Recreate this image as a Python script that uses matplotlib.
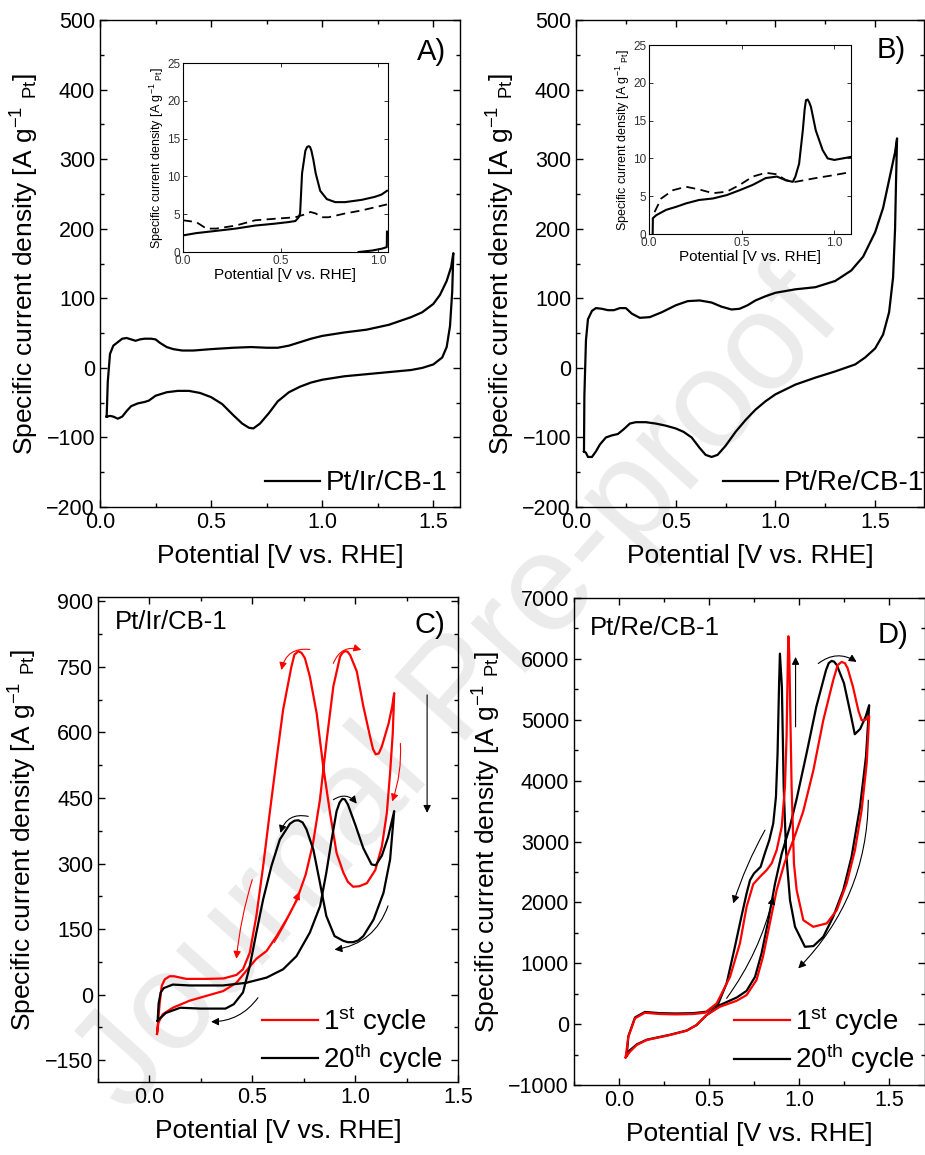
import matplotlib
matplotlib.use('Agg')
from matplotlib import pyplot as plt
from matplotlib.ticker import MultipleLocator

plt.rcParams['font.family'] = ['Liberation Sans', 'DejaVu Sans']
plt.rcParams['mathtext.fontset'] = 'custom'
plt.rcParams['mathtext.rm'] = 'Liberation Sans'
plt.rcParams['mathtext.it'] = 'Liberation Sans:italic'
plt.rcParams['mathtext.default'] = 'regular'

# ---- A) Pt/Ir/CB-1 CV ----
a_fwd_x = [0.03, 0.035, 0.045, 0.06, 0.08, 0.1, 0.12, 0.14, 0.16, 0.18, 0.2, 0.23, 0.25, 0.27, 0.3,
           0.33, 0.37, 0.42, 0.5, 0.6, 0.68, 0.75, 0.8, 0.85, 0.9, 0.95, 1.0, 1.1, 1.2, 1.3, 1.4,
           1.45, 1.5, 1.53, 1.56, 1.58, 1.59]
a_fwd_y = [-70, -20, 20, 32, 37, 42, 43, 41, 39, 41, 42, 42, 41, 36, 30, 27, 25, 25, 27, 29, 30,
           29, 29, 32, 37, 42, 46, 51, 55, 62, 73, 80, 92, 105, 125, 145, 165]
a_bwd_x = [1.59, 1.585, 1.575, 1.56, 1.54, 1.5, 1.45, 1.4, 1.3, 1.2, 1.1, 1.0, 0.95, 0.9, 0.85, 0.8,
           0.76, 0.72, 0.69, 0.67, 0.64, 0.6, 0.55, 0.5, 0.45, 0.4, 0.35, 0.3, 0.25, 0.22, 0.2, 0.17,
           0.14, 0.12, 0.1, 0.08, 0.06, 0.045, 0.03]
a_bwd_y = [165, 110, 60, 30, 15, 5, 0, -3, -6, -9, -12, -17, -21, -27, -35, -48, -65, -80, -87, -86,
           -80, -68, -52, -42, -36, -33, -33, -35, -40, -47, -49, -51, -55, -62, -70, -73, -70, -69, -70]

# inset A
ia_sol_x = [0.0, 0.068, 0.17, 0.27, 0.37, 0.47, 0.54, 0.576, 0.593, 0.6, 0.61, 0.627, 0.636, 0.644,
            0.651, 0.658, 0.668, 0.68, 0.703, 0.737, 0.78, 0.83, 0.915, 0.983, 1.017, 1.045]
ia_sol_y = [2.2, 2.5, 2.8, 3.1, 3.5, 3.75, 3.96, 4.1, 4.6, 5.1, 10.4, 13.4, 13.9, 14.0, 13.9, 13.4,
            12.2, 10.4, 8.1, 7.0, 6.6, 6.6, 6.9, 7.3, 7.6, 8.1]
ia_dash_x = [0.0, 0.068, 0.12, 0.17, 0.27, 0.37, 0.47, 0.576, 0.627, 0.653, 0.68, 0.712, 0.746,
             0.83, 0.915, 1.045]
ia_dash_y = [4.2, 3.96, 3.1, 3.1, 3.5, 4.2, 4.4, 4.6, 5.0, 5.3, 5.1, 4.6, 4.6, 5.1, 5.5, 6.3]
ia_tail_x = [0.9, 0.97, 1.02, 1.044, 1.045]
ia_tail_y = [0.0, 0.2, 0.45, 0.65, 2.7]

# ---- B) Pt/Re/CB-1 CV ----
b_fwd_x = [0.04, 0.042, 0.05, 0.06, 0.08, 0.1, 0.13, 0.16, 0.19, 0.22, 0.25, 0.28, 0.32, 0.37, 0.43,
           0.5, 0.56, 0.62, 0.68, 0.73, 0.78, 0.82, 0.86, 0.9, 0.95, 1.0, 1.1, 1.2, 1.3, 1.38, 1.44,
           1.5, 1.54, 1.57, 1.6, 1.61]
b_fwd_y = [-120, -40, 40, 70, 82, 86, 85, 83, 83, 86, 86, 78, 72, 73, 80, 90, 96, 97, 94, 88, 84,
           85, 90, 97, 103, 108, 113, 116, 125, 140, 160, 195, 230, 270, 310, 330]
b_bwd_x = [1.61, 1.605, 1.6, 1.59, 1.57, 1.54, 1.5, 1.45, 1.4, 1.3, 1.2, 1.1, 1.0, 0.95, 0.9, 0.85,
           0.8, 0.75, 0.71, 0.68, 0.65, 0.62, 0.58, 0.54, 0.5, 0.45, 0.4, 0.35, 0.3, 0.27, 0.24,
           0.21, 0.18, 0.15, 0.12, 0.1, 0.08, 0.06, 0.05, 0.04]
b_bwd_y = [330, 270, 200, 130, 80, 48, 28, 15, 5, -5, -14, -24, -38, -48, -60, -75, -92, -112, -125,
           -128, -125, -115, -100, -92, -87, -83, -80, -78, -78, -80, -88, -95, -97, -100, -110,
           -120, -128, -128, -122, -120]

# inset B
ib_sol_x = [0.02, 0.021, 0.04, 0.093, 0.147, 0.2, 0.27, 0.345, 0.42, 0.49, 0.56, 0.63, 0.69, 0.74,
            0.776, 0.79, 0.81, 0.83, 0.84, 0.847, 0.856, 0.865, 0.874, 0.9, 0.937, 0.964, 1.0,
            1.045, 1.09]
ib_sol_y = [0.0, 2.1, 2.5, 3.2, 3.6, 4.05, 4.5, 4.7, 5.15, 5.8, 6.5, 7.4, 7.6, 7.1, 6.9, 7.6, 9.3,
            13.7, 16.5, 17.7, 17.8, 17.4, 16.8, 13.7, 11.1, 10.0, 9.8, 10.0, 10.2]
ib_dash_x = [0.03, 0.066, 0.13, 0.2, 0.27, 0.345, 0.42, 0.49, 0.56, 0.63, 0.69, 0.74, 0.79, 0.9,
             1.0, 1.09]
ib_dash_y = [2.9, 4.7, 5.8, 6.25, 5.9, 5.4, 5.6, 6.5, 7.6, 8.1, 7.9, 7.1, 6.9, 7.4, 7.8, 8.2]

# ---- C) Pt/Ir/CB-1, 1st and 20th cycle ----
c1_x = [0.037, 0.044, 0.065, 0.114, 0.195, 0.276, 0.358, 0.423, 0.47, 0.52, 0.57, 0.62, 0.67, 0.715,
        0.76, 0.795, 0.829, 0.862, 0.894, 0.927, 0.94, 0.951, 0.963, 0.976, 1.008, 1.04, 1.073,
        1.087, 1.1, 1.115, 1.13, 1.163, 1.18, 1.19,
        1.183, 1.17, 1.154, 1.13, 1.098, 1.057, 1.02, 0.99, 0.965, 0.943, 0.91, 0.878, 0.845,
        0.813, 0.78, 0.756, 0.74, 0.724, 0.705, 0.69, 0.65, 0.618, 0.585, 0.553, 0.52, 0.488,
        0.455, 0.423, 0.36, 0.28, 0.18, 0.12, 0.098, 0.075, 0.06, 0.05, 0.037]
c1_y = [-90, -64, -45, -30, -14, -3, 8, 27, 54, 82, 100, 135, 175, 215, 275, 345, 446, 583, 705, 774,
        783, 786, 785, 777, 740, 660, 590, 562, 550, 552, 568, 621, 659, 690,
        598, 507, 415, 339, 285, 255, 248, 247, 258, 279, 324, 416, 522, 644, 728, 770, 782, 786,
        778, 750, 652, 538, 416, 294, 180, 96, 58, 45, 37, 36, 36, 42, 42, 35, 20, -20, -90]
c20_x = [0.04, 0.045, 0.055, 0.07, 0.114, 0.195, 0.358, 0.47, 0.57, 0.65, 0.715, 0.78, 0.83, 0.86,
         0.886, 0.91, 0.925, 0.938, 0.95, 0.965, 1.0, 1.04, 1.08, 1.1, 1.13, 1.16, 1.19,
         1.17, 1.138, 1.09, 1.04, 1.015, 0.99, 0.965, 0.943, 0.9, 0.86, 0.829, 0.797, 0.764, 0.745,
         0.724, 0.705, 0.683, 0.634, 0.593, 0.553, 0.52, 0.488, 0.455, 0.41, 0.37, 0.25, 0.15,
         0.08, 0.05, 0.04]
c20_y = [-60, -20, 5, 15, 23, 21, 21, 27, 39, 58, 88, 142, 203, 279, 355, 420, 440, 448, 447, 435,
         390, 335, 298, 296, 318, 360, 420,
         309, 233, 172, 134, 124, 120, 120, 123, 134, 180, 256, 332, 378, 394, 399, 398, 391, 355,
         294, 218, 142, 65, 5, -22, -32, -32, -30, -42, -55, -60]

# ---- D) Pt/Re/CB-1, 1st and 20th cycle ----
d1_x = [0.037, 0.061, 0.098, 0.154, 0.283, 0.376, 0.431, 0.487, 0.561, 0.654, 0.709, 0.764, 0.8,
        0.838, 0.876, 0.92, 0.978, 1.024, 1.08, 1.135, 1.19, 1.215, 1.237, 1.255, 1.27, 1.3, 1.33,
        1.348, 1.37, 1.39,
        1.376, 1.348, 1.311, 1.265, 1.21, 1.154, 1.079, 1.024, 0.987, 0.972, 0.959, 0.946, 0.941,
        0.937, 0.931, 0.922, 0.904, 0.876, 0.848, 0.82, 0.783, 0.746, 0.709, 0.672, 0.617, 0.543,
        0.478, 0.41, 0.317, 0.228, 0.144, 0.089, 0.052, 0.037]
d1_y = [-546, -453, -343, -261, -179, -108, -15, 150, 286, 384, 478, 724, 1107, 1655, 2202, 2650,
        3100, 3500, 4172, 4993, 5650, 5900, 5951, 5930, 5850, 5540, 5150, 4993, 5000, 5060,
        4282, 3516, 2860, 2312, 1874, 1655, 1599, 1709, 2202, 2640, 3898, 6087, 6373, 5815, 4720,
        3898, 3241, 2859, 2640, 2530, 2420, 2300, 1928, 1327, 778, 341, 187, 166, 160, 166, 187,
        95, -207, -546]
d20_x = [0.043, 0.06, 0.1, 0.155, 0.283, 0.376, 0.431, 0.487, 0.561, 0.654, 0.709, 0.756, 0.792,
         0.83, 0.867, 0.904, 0.95, 0.987, 1.042, 1.096, 1.15, 1.165, 1.181, 1.195, 1.21, 1.25,
         1.29, 1.31, 1.34, 1.37, 1.39,
         1.372, 1.339, 1.292, 1.246, 1.19, 1.135, 1.08, 1.033, 0.978, 0.95, 0.935, 0.928, 0.915,
         0.905, 0.894, 0.889, 0.881, 0.872, 0.857, 0.835, 0.81, 0.787, 0.75, 0.728, 0.709, 0.68,
         0.64, 0.598, 0.552, 0.487, 0.41, 0.317, 0.228, 0.144, 0.089, 0.052, 0.043]
d20_y = [-520, -430, -330, -255, -175, -105, -15, 150, 314, 437, 547, 778, 1162, 1709, 2312, 2800,
         3250, 3700, 4447, 5211, 5814, 5930, 5967, 5955, 5900, 5600, 5050, 4763, 4850, 5050, 5240,
         4391, 3570, 2749, 2202, 1764, 1435, 1282, 1271, 1599, 2038, 2585, 2859, 3898, 5540, 6087,
         5540, 4447, 3734, 3297, 3023, 2804, 2585, 2476, 2366, 2148, 1764, 1217, 670, 341, 204,
         180, 175, 180, 200, 110, -200, -520]

# scan direction arrows: (x_from, y_from, x_to, y_to, rad, colour)
c_arrows = [(0.78, 790, 0.642, 743, 0.45, 'red'), (0.894, 758, 1.03, 789, -0.45, 'red'),
            (1.22, 575, 1.18, 442, -0.1, 'red'), (0.5, 263, 0.423, 82, 0.05, 'red'),
            (0.607, 119, 0.728, 235, 0.05, 'red'), (0.772, 408, 0.637, 370, 0.45, 'black'),
            (0.894, 446, 1.008, 437, -0.45, 'black'), (1.16, 203, 0.9, 103, -0.3, 'black'),
            (0.528, -7, 0.3, -62, -0.25, 'black'), (1.35, 686, 1.35, 416, 0.0, 'black')]
d_arrows = [(1.107, 5924, 1.32, 5951, -0.35, 'black'), (0.981, 4883, 0.981, 6033, 0.0, 'black'),
            (0.811, 3187, 0.635, 1984, 0.05, 'black'), (0.598, 424, 0.857, 2092, 0.1, 'black'),
            (1.385, 3680, 0.996, 916, -0.2, 'black')]

ylab = r'Specific current density [A g$^{-1}$ $_{Pt}$]'
xlab = 'Potential [V vs. RHE]'

fig = plt.figure(figsize=(9.25, 11.55), dpi=100)


def style(ax, xmaj, xmin, ymaj, ymin, size=15.5):
    ax.set_facecolor('none')
    ax.xaxis.set_major_locator(MultipleLocator(xmaj))
    ax.xaxis.set_minor_locator(MultipleLocator(xmin))
    ax.yaxis.set_major_locator(MultipleLocator(ymaj))
    ax.yaxis.set_minor_locator(MultipleLocator(ymin))
    ax.tick_params(which='both', direction='in', top=True, right=True, labelsize=size)
    ax.tick_params(which='major', length=5, width=1)
    ax.tick_params(which='minor', length=3, width=1)
    for s in ax.spines.values():
        s.set_linewidth(1.0)


def draw_arrows(ax, arrows):
    for x0, y0, x1, y1, rad, col in arrows:
        ax.annotate('', xy=(x1, y1), xytext=(x0, y0),
                    arrowprops=dict(arrowstyle='-|>', color=col, lw=0.8, mutation_scale=11,
                                    shrinkA=0, shrinkB=0,
                                    connectionstyle='arc3,rad=%s' % rad))


def inset(rect, xmax):
    ax = fig.add_axes(rect)
    ax.set_facecolor('none')
    ax.set_xlim(0, xmax)
    ax.set_ylim(0, 25)
    ax.xaxis.set_major_locator(MultipleLocator(0.5))
    ax.yaxis.set_major_locator(MultipleLocator(5))
    ax.tick_params(direction='in', top=True, right=True, labelsize=8.5, length=3,
                   width=0.7, colors='#333333', pad=2)
    for s in ax.spines.values():
        s.set_linewidth(0.8)
    ax.xaxis.set_major_formatter(plt.FuncFormatter(lambda v, p: '%.1f' % v))
    ax.set_xlabel(xlab, fontsize=11, labelpad=1)
    ax.set_ylabel(ylab, fontsize=9, labelpad=1)
    return ax


fmt1 = plt.FuncFormatter(lambda v, p: '%.1f' % v)

# A
axA = fig.add_axes([0.1081, 0.5610, 0.3892, 0.4216])
axA.plot(a_fwd_x + a_bwd_x, a_fwd_y + a_bwd_y, color='black', lw=1.6, label='Pt/Ir/CB-1')
axA.set_xlim(0, 1.62)
axA.set_ylim(-200, 500)
style(axA, 0.5, 0.25, 100, 50)
axA.xaxis.set_major_formatter(fmt1)
axA.set_xlabel(xlab, fontsize=19, labelpad=8)
axA.set_ylabel(ylab, fontsize=19, labelpad=4)
axA.text(0.92, 0.934, 'A)', transform=axA.transAxes, fontsize=21, ha='center', va='center')
axA.legend(loc='lower right', bbox_to_anchor=(0.965, 0.022), frameon=False, fontsize=20,
           handlelength=2.0, handletextpad=0.2, borderpad=0, borderaxespad=0)

iaA = inset([0.1978, 0.7818, 0.2216, 0.1636], 1.05)
iaA.plot(ia_sol_x, ia_sol_y, color='black', lw=1.5)
iaA.plot(ia_dash_x, ia_dash_y, color='black', lw=1.3, dashes=(5, 3))
iaA.plot(ia_tail_x, ia_tail_y, color='black', lw=1.5)

# B
axB = fig.add_axes([0.6227, 0.5610, 0.3762, 0.4216])
axB.plot(b_fwd_x + b_bwd_x, b_fwd_y + b_bwd_y, color='black', lw=1.6, label='Pt/Re/CB-1')
axB.set_xlim(0, 1.745)
axB.set_ylim(-200, 500)
style(axB, 0.5, 0.25, 100, 50)
axB.xaxis.set_major_formatter(fmt1)
axB.set_xlabel(xlab, fontsize=19, labelpad=8)
axB.set_ylabel(ylab, fontsize=19, labelpad=4)
axB.text(0.905, 0.938, 'B)', transform=axB.transAxes, fontsize=21, ha='center', va='center')
axB.legend(loc='lower right', bbox_to_anchor=(1.0, 0.022), frameon=False, fontsize=20,
           handlelength=2.0, handletextpad=0.2, borderpad=0, borderaxespad=0)

iaB = inset([0.7016, 0.7974, 0.2184, 0.1636], 1.09)
iaB.plot(ib_sol_x, ib_sol_y, color='black', lw=1.5)
iaB.plot(ib_dash_x, ib_dash_y, color='black', lw=1.3, dashes=(5, 3))

# C
axC = fig.add_axes([0.1059, 0.0632, 0.3892, 0.4199])
axC.plot(c1_x, c1_y, color='red', lw=1.6, label=r'1$^{st}$ cycle')
axC.plot(c20_x, c20_y, color='black', lw=1.6, label=r'20$^{th}$ cycle')
axC.set_xlim(-0.25, 1.5)
axC.set_ylim(-200, 910)
style(axC, 0.5, 0.25, 150, 75)
axC.xaxis.set_major_formatter(fmt1)
axC.set_xlabel(xlab, fontsize=19, labelpad=8)
axC.set_ylabel(ylab, fontsize=19, labelpad=4)
axC.text(0.922, 0.942, 'C)', transform=axC.transAxes, fontsize=21, ha='center', va='center')
axC.text(0.047, 0.948, 'Pt/Ir/CB-1', transform=axC.transAxes, fontsize=18.5, ha='left', va='center')
axC.legend(loc='lower right', bbox_to_anchor=(0.958, 0.012), frameon=False, fontsize=20,
           handlelength=2.0, handletextpad=0.2, borderpad=0, borderaxespad=0, labelspacing=0.15)
draw_arrows(axC, c_arrows)

# D
axD = fig.add_axes([0.6205, 0.0606, 0.3795, 0.4216])
axD.plot(d1_x, d1_y, color='red', lw=1.6, label=r'1$^{st}$ cycle', zorder=3)
axD.plot(d20_x, d20_y, color='black', lw=1.6, label=r'20$^{th}$ cycle', zorder=2)
axD.set_xlim(-0.25, 1.7)
axD.set_ylim(-1000, 7000)
style(axD, 0.5, 0.25, 1000, 500)
axD.xaxis.set_major_formatter(fmt1)
axD.set_xlabel(xlab, fontsize=19, labelpad=8)
axD.set_ylabel(ylab, fontsize=19, labelpad=4)
axD.text(0.909, 0.924, 'D)', transform=axD.transAxes, fontsize=21, ha='center', va='center')
axD.text(0.046, 0.938, 'Pt/Re/CB-1', transform=axD.transAxes, fontsize=18.5, ha='left', va='center')
axD.legend(loc='lower right', bbox_to_anchor=(0.972, 0.018), frameon=False, fontsize=20,
           handlelength=2.0, handletextpad=0.2, borderpad=0, borderaxespad=0, labelspacing=0.15)
draw_arrows(axD, d_arrows)

# watermark
fig.text(0.497, 0.400, 'Journal Pre-proof', rotation=48, fontsize=100, color='#ebebeb',
         ha='center', va='center', zorder=-1)

fig.savefig('out.png', dpi=100)
